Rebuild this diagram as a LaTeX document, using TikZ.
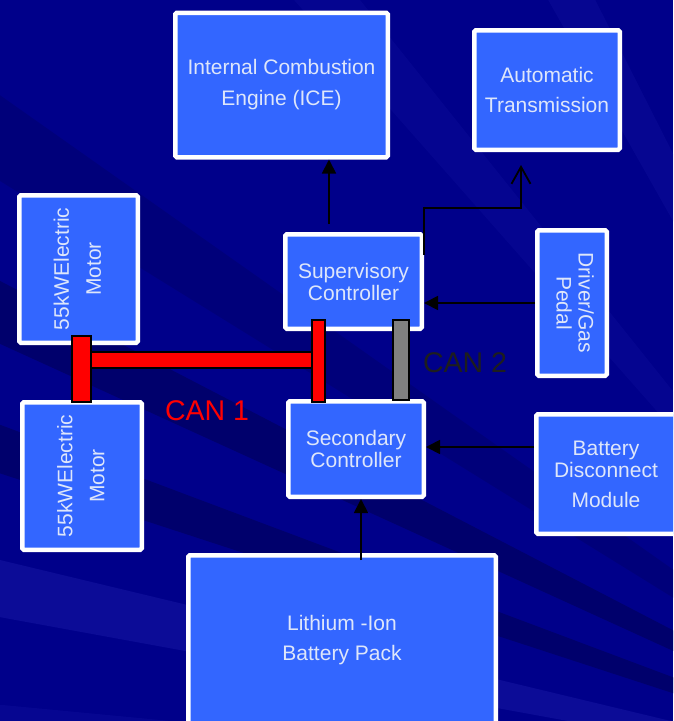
\documentclass[tikz,border=0pt]{standalone}
\usepackage{fontspec}
\setmainfont{Liberation Sans}
\usetikzlibrary{arrows.meta}
\definecolor{bgbase}{RGB}{0,0,138}
\definecolor{bgdark}{RGB}{0,0,108}
\definecolor{bglight}{RGB}{22,22,162}
\definecolor{boxblue}{RGB}{51,102,255}
\definecolor{boxtext}{RGB}{222,230,250}
\definecolor{cangray}{RGB}{128,128,128}
\definecolor{cantext}{RGB}{30,30,30}
\tikzset{
  blk/.style={draw=white, line width=4.5pt, fill=boxblue, rounded corners=1.5pt,
    text=boxtext, align=center, inner sep=0pt},
  arr/.style={line width=1.8pt, -{Triangle[length=14pt,width=14pt]}},
  openarr/.style={line width=1.8pt, -{Straight Barb[length=17pt,width=19pt,line width=1.8pt]}},
  canred/.style={fill=red, draw=black, line width=1.5pt},
  cangrey/.style={fill=cangray, draw=black, line width=1.5pt},
  bf/.style={font=\fontsize{21}{#1}\selectfont},
}
\begin{document}
\begin{tikzpicture}[x=1pt,y=-1pt]
\useasboundingbox (0,0) rectangle (673,721);
\clip (0,0) rectangle (673,721);
% background with rays
\fill[bgbase] (0,0) rectangle (673,721);
\fill[bgdark] (1000,800) -- (-50,255) -- (-50,321) -- cycle;
\fill[bgdark] (1000,800) -- (-50,406) -- (-50,457) -- cycle;
\fill[bglight, opacity=0.55] (1000,800) -- (-50,548) -- (-50,608) -- cycle;
\fill[bgdark, opacity=0.5] (1000,800) -- (-50,60) -- (-50,150) -- cycle;
\fill[bglight, opacity=0.25] (1000,800) -- (250,-50) -- (320,-50) -- cycle;
\fill[bglight, opacity=0.3] (1000,800) -- (520,-50) -- (570,-50) -- cycle;
\fill[bglight, opacity=0.3] (1000,800) -- (-50,700) -- (-50,760) -- cycle;

% boxes
\node[blk, bf=31, minimum width=212.5pt, minimum height=144.5pt] (ice) at (281.5,85)
  {Internal Combustion\\Engine (ICE)};
\node[blk, bf=30, minimum width=145.5pt, minimum height=119.5pt] (at) at (547,90)
  {Automatic\\Transmission};
\node[blk, bf=32, minimum width=118.5pt, minimum height=147.5pt] (m1) at (78.5,269)
  {\rotatebox{90}{\begin{tabular}{@{}c@{}}55kWElectric\\Motor\end{tabular}}};
\node[blk, bf=32, minimum width=119.5pt, minimum height=147.5pt] (m2) at (82,476)
  {\rotatebox{90}{\begin{tabular}{@{}c@{}}55kWElectric\\Motor\end{tabular}}};
\node[blk, bf=22, minimum width=136.5pt, minimum height=94.5pt] (sup) at (353.5,281.5)
  {Supervisory\\Controller};
\node[blk, bf=22, minimum width=135.5pt, minimum height=95.5pt] (sec) at (356,449)
  {Secondary\\Controller};
\node[blk, bf=22, minimum width=69.5pt, minimum height=145.5pt] (ped) at (572,303)
  {\rotatebox{-90}{\begin{tabular}{@{}c@{}}Driver/Gas\\Pedal\end{tabular}}};
\node[blk, bf=22, minimum width=139.5pt, minimum height=119.5pt, text width=139.5pt] (bdm) at (606,474)
  {Battery\\Disconnect\\[8pt]Module};
\node[blk, bf=30, minimum width=307.5pt, minimum height=169.5pt] (pack) at (342,640)
  {Lithium -Ion\\Battery Pack};

% CAN 1 (red bus)
\draw[canred] (91,352) rectangle (312,368);
\draw[canred] (72,336) rectangle (91,402);
\draw[canred] (312,320) rectangle (325,402);
% CAN 2 (grey bus)
\draw[cangrey] (393,320) rectangle (409,400);

\node[text=red, font=\fontsize{28.5}{30}\selectfont] (can1) at (207,411) {CAN 1};
\node[text=cantext, font=\fontsize{28.5}{30}\selectfont] (can2) at (465,363) {CAN 2};

% connectors
\coordinate (s1) at (329,224);
\draw[arr] (s1) -- (s1 |- ice.south);
\coordinate (t1) at (424,255);
\coordinate (t2) at (521,165);
\draw[openarr] (t1) -- (t1 |- 0,208) -- (t2 |- 0,208) -- (t2);
\draw[arr] (ped.west) -- (ped.west -| sup.east);
\coordinate (b1) at (534,447);
\draw[arr] (b1) -- (b1 -| sec.east);
\coordinate (p1) at (361,560);
\draw[arr] (p1) -- (p1 |- sec.south);
\end{tikzpicture}
\end{document}
